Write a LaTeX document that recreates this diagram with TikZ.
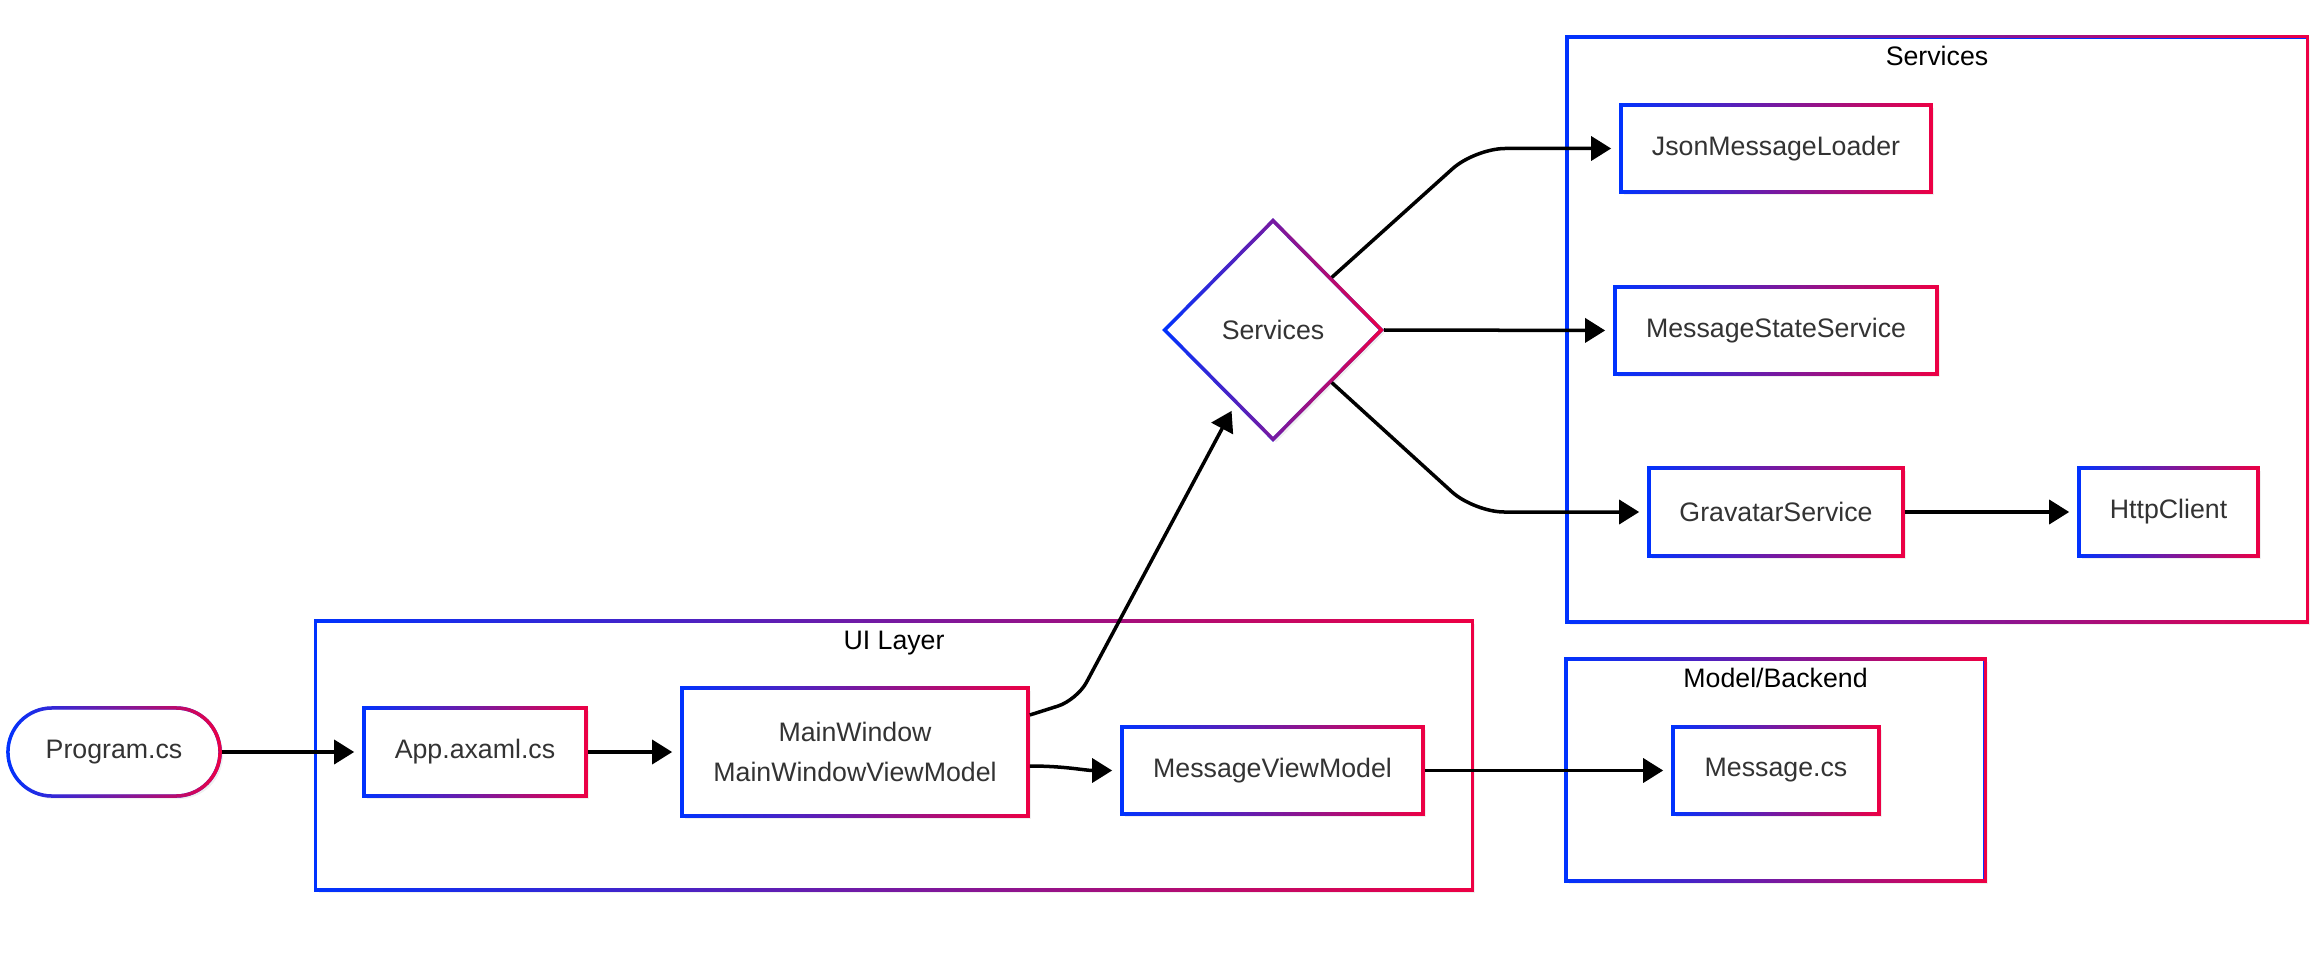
\documentclass[tikz,border=0pt]{standalone}
\usepackage{fontspec}
\setmainfont{Liberation Sans}
\usetikzlibrary{shapes.geometric, positioning, arrows.meta, calc, fadings, shadows}
\definecolor{gradblue}{HTML}{0033FF}
\definecolor{gradred}{HTML}{EE0044}
\definecolor{textgray}{HTML}{333333}
\tikzset{
    gradline/.style={ % Blue on the left, red on the right
        draw=gradblue,
        postaction={draw=gradred, path fading=west}
    },
    box/.style={ % Sets the properties for each block
        gradline,
        fill=white,
        line width=0.035cm,
        text=textgray,
        font=\fontsize{7.6}{11.4}\selectfont,
        inner sep=0pt,
        align=center,
        minimum height=0.87cm,
        drop shadow={opacity=0.12, shadow xshift=0.03cm, shadow yshift=-0.03cm}
    },
    pill/.style={box, rounded corners=0.44cm, minimum height=0.88cm},
    group/.style={ % Frame round a layer
        gradline,
        fill=white,
        line width=0.035cm,
        drop shadow={opacity=0.12, shadow xshift=0.03cm, shadow yshift=-0.03cm}
    },
    grouptitle/.style={anchor=base, inner sep=0pt, font=\fontsize{7.6}{9}\selectfont},
    conn/.style={ % Sets the properties for each connector
        draw,
        line width=0.035cm,
        -{Triangle[length=0.2cm, width=0.24cm]},
        shorten >=0.08cm
    },
}

\begin{document}
\begin{tikzpicture}[x=0.01cm, y=-0.01cm]
            \useasboundingbox (0,0) rectangle (2310,967);
            % layers
            \node[group, minimum width=11.56cm, minimum height=2.69cm]  (uilayer)    at (894,755.5)  {};
            \node[group, minimum width=7.40cm, minimum height=5.85cm]   (svcgroup)   at (1937,329.5) {};
            \node[group, minimum width=4.19cm, minimum height=2.22cm]   (modelgroup) at (1775.5,770) {};
            \node[grouptitle] (uititle)    at ([yshift=-0.305cm]uilayer.north)    {UI Layer};
            \node[grouptitle] (svctitle)   at ([yshift=-0.305cm]svcgroup.north)   {Services};
            \node[grouptitle] (modeltitle) at ([yshift=-0.305cm]modelgroup.north) {Model/Backend};
            % blocks
            \node[pill, minimum width=2.12cm]                   (prog)    at (114,752)     {Program.cs};
            \node[box, minimum width=2.22cm, minimum height=0.88cm] (app) at (475,752)     {App.axaml.cs};
            \node[box, minimum width=3.46cm, minimum height=1.28cm] (mainwin) at (855,752) {MainWindow\\MainWindowViewModel};
            \node[box, minimum width=3.01cm]                    (mvm)     at (1272.5,770.5) {MessageViewModel};
            \node[box, minimum width=2.06cm]                    (msg)     at (1776,770.5)   {Message.cs};
            \node[box, diamond, minimum width=2.18cm, minimum height=2.2cm] (svc) at (1273,330) {Services};
            \node[box, minimum width=3.10cm]                    (jml)     at (1776,148.5)   {JsonMessageLoader};
            \node[box, minimum width=3.22cm]                    (mss)     at (1776,330.5)   {MessageStateService};
            \node[box, minimum width=2.54cm, minimum height=0.88cm] (grav) at (1776,512)   {GravatarService};
            \node[box, minimum width=1.79cm, minimum height=0.88cm] (http) at (2168.5,512) {HttpClient};
            % bends
            \coordinate (upbend)   at (1077,700);
            \coordinate (svcin)    at ($(svc.west)!0.66!(svc.south)$);
            \coordinate (svcne)    at ($(svc.north)!0.53!(svc.east)$);
            \coordinate (jmlbend)  at (1475,148.5);
            \coordinate (svcse)    at ($(svc.south)!0.53!(svc.east)$);
            \coordinate (gravbend) at (1474,512);
            % connectors
            \draw[conn]                       (prog) -- (app);
            \draw[conn]                       (app) -- (mainwin);
            \draw[conn, rounded corners=0.2cm] ([yshift=0.37cm]mainwin.east) -- (upbend) -- (svcin);
            \draw[conn]                       ([yshift=-0.14cm]mainwin.east) to[out=0, in=180] (mvm.west);
            \draw[conn]                       (mvm) -- (msg);
            \draw[conn, rounded corners=0.3cm] (svcne) -- (jmlbend) -- (jml.west);
            \draw[conn]                       (svc.east) -- (mss.west);
            \draw[conn, rounded corners=0.3cm] (svcse) -- (gravbend) -- (grav.west);
            \draw[conn]                       (grav) -- (http);
        \end{tikzpicture}
\end{document}
